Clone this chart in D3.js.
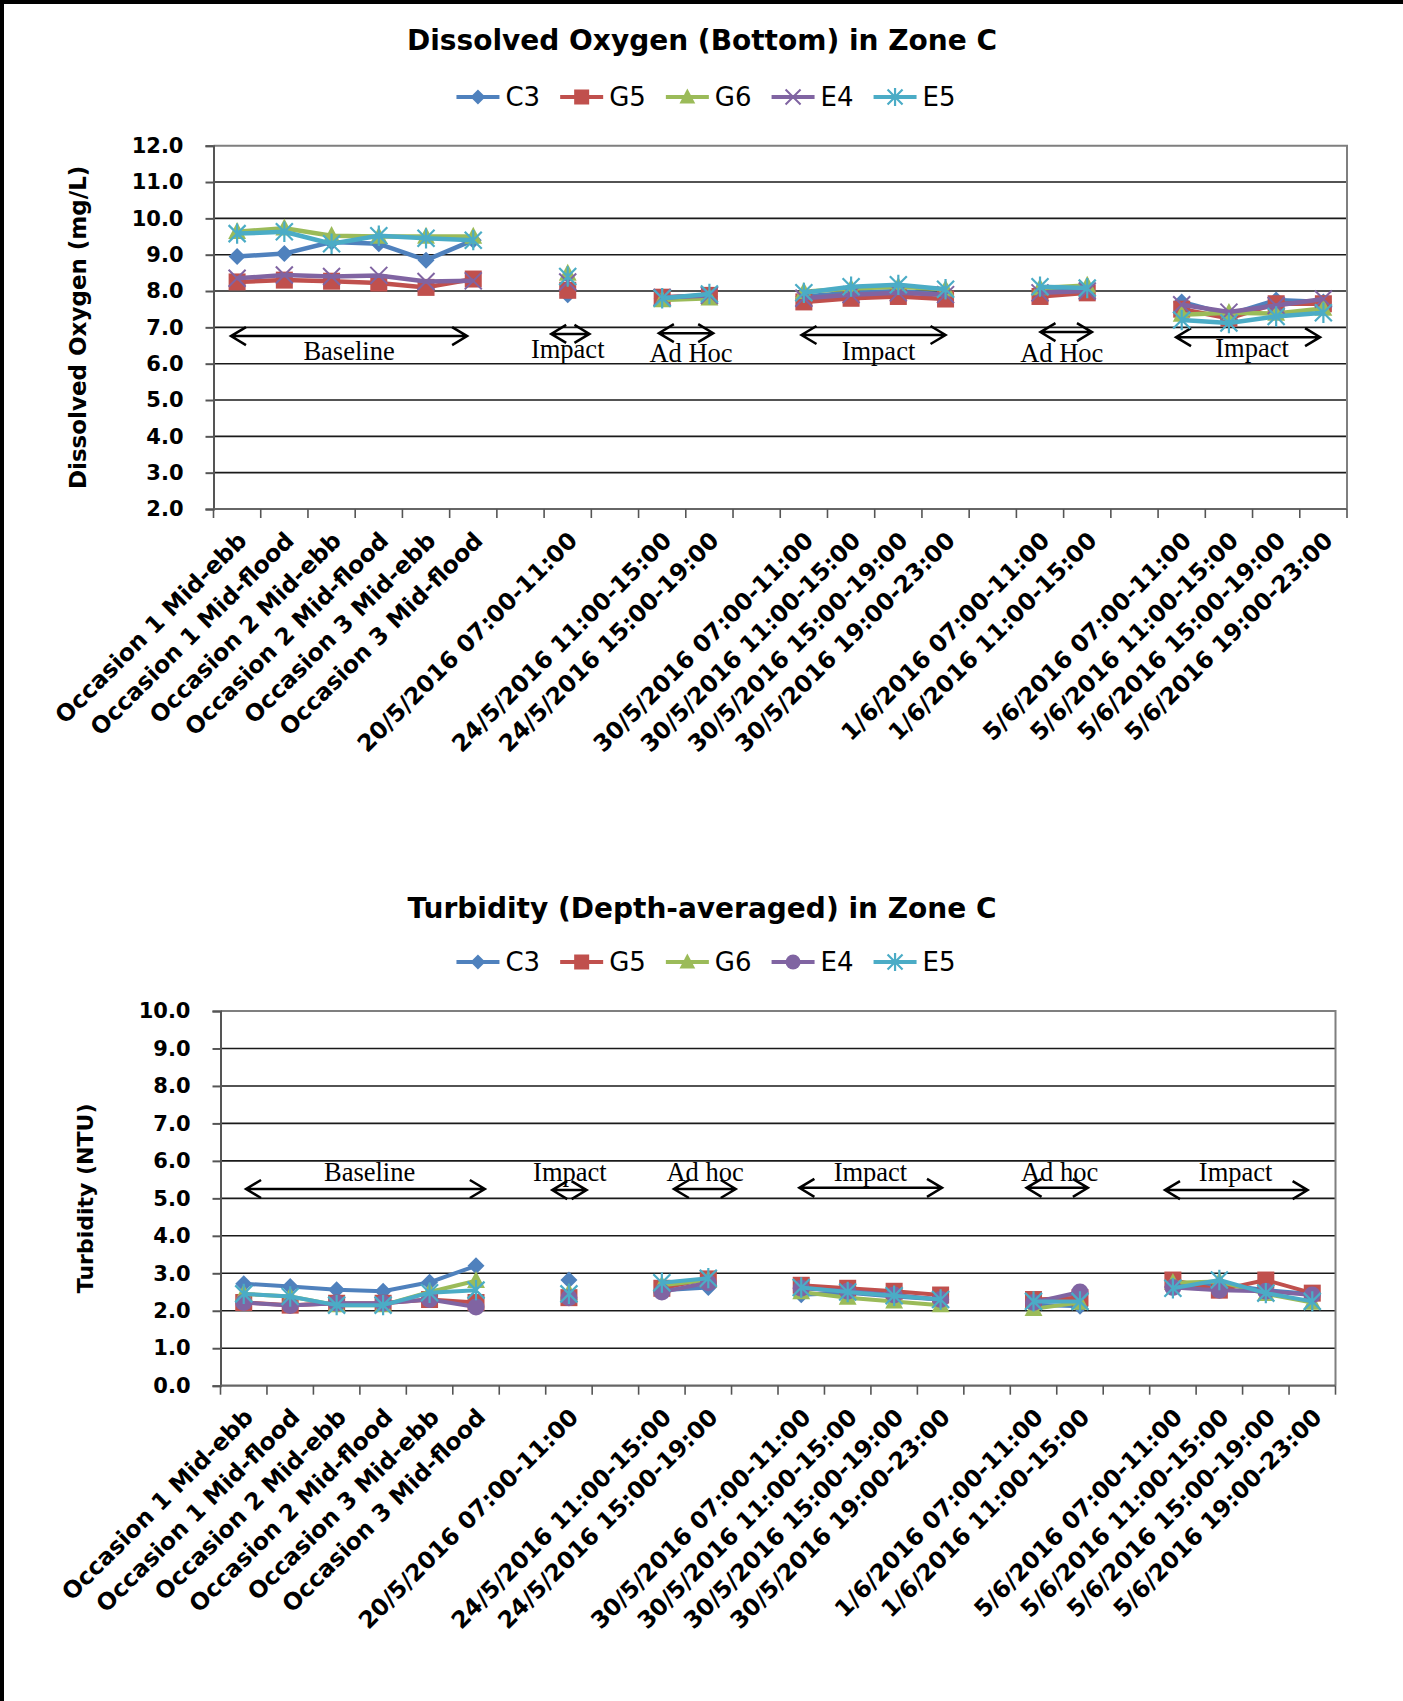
<!DOCTYPE html>
<html>
<head>
<meta charset="utf-8">
<script src="https://cdn.jsdelivr.net/npm/d3@7"></script>
<style>
  html, body { margin: 0; padding: 0; background: #fff; }
  svg { display: block; }
</style>
</head>
<body>
<svg id="page" width="1403" height="1701"></svg>
<script>
// ---- shared categories (blank slots separate the survey groups) ----
const categories = [
  "Occasion 1 Mid-ebb", "Occasion 1 Mid-flood", "Occasion 2 Mid-ebb",
  "Occasion 2 Mid-flood", "Occasion 3 Mid-ebb", "Occasion 3 Mid-flood",
  "", "20/5/2016 07:00-11:00", "",
  "24/5/2016 11:00-15:00", "24/5/2016 15:00-19:00", "",
  "30/5/2016 07:00-11:00", "30/5/2016 11:00-15:00", "30/5/2016 15:00-19:00",
  "30/5/2016 19:00-23:00", "",
  "1/6/2016 07:00-11:00", "1/6/2016 11:00-15:00", "",
  "5/6/2016 07:00-11:00", "5/6/2016 11:00-15:00", "5/6/2016 15:00-19:00",
  "5/6/2016 19:00-23:00"
];
const stations = ["C3", "G5", "G6", "E4", "E5"];
const stationColors = ["#4F81BD", "#C0504D", "#9BBB59", "#8064A2", "#4BACC6"];

// ---- Dissolved oxygen (bottom), mg/L ----
const doC3 = [8.95, 9.03, 9.35, 9.30, 8.85, 9.40, null, 7.90, null, 7.80, 7.85, null, 7.85, 7.95, 8.00, 7.90, null, 8.00, 8.00, null, 7.70, 7.35, 7.75, 7.70];
const doG5 = [8.25, 8.30, 8.27, 8.22, 8.10, 8.33, null, 8.02, null, 7.83, 7.88, null, 7.70, 7.80, 7.85, 7.78, null, 7.85, 7.95, null, 7.50, 7.25, 7.65, 7.65];
const doG6 = [9.63, 9.73, 9.52, 9.50, 9.50, 9.50, null, 8.48, null, 7.75, 7.80, null, 7.98, 8.07, 8.12, 8.05, null, 8.08, 8.15, null, 7.35, 7.40, 7.38, 7.52];
const doE4 = [8.35, 8.44, 8.40, 8.43, 8.26, 8.28, null, 8.25, null, 7.82, 7.88, null, 7.80, 7.90, 7.95, 7.90, null, 7.95, 8.00, null, 7.62, 7.42, 7.60, 7.78];
const doE5 = [9.58, 9.63, 9.30, 9.52, 9.45, 9.40, null, 8.40, null, 7.80, 7.92, null, 7.95, 8.12, 8.17, 8.05, null, 8.12, 8.08, null, 7.20, 7.12, 7.30, 7.40];
const doTicks = [2, 3, 4, 5, 6, 7, 8, 9, 10, 11, 12];

// ---- Turbidity (depth-averaged), NTU ----
const tbC3 = [2.72, 2.65, 2.56, 2.52, 2.76, 3.20, null, 2.82, null, 2.55, 2.62, null, 2.43, 2.48, 2.38, 2.30, null, 2.16, 2.12, null, 2.65, 2.72, 2.55, 2.45];
const tbG5 = [2.22, 2.15, 2.20, 2.20, 2.30, 2.22, null, 2.35, null, 2.60, 2.85, null, 2.68, 2.60, 2.52, 2.42, null, 2.30, 2.35, null, 2.82, 2.55, 2.82, 2.47];
const tbG6 = [2.45, 2.38, 2.15, 2.15, 2.50, 2.80, null, 2.48, null, 2.68, 2.82, null, 2.50, 2.35, 2.25, 2.15, null, 2.05, 2.22, null, 2.75, 2.78, 2.45, 2.22];
const tbE4 = [2.22, 2.14, 2.20, 2.20, 2.30, 2.10, null, 2.35, null, 2.50, 2.75, null, 2.60, 2.52, 2.42, 2.30, null, 2.22, 2.50, null, 2.62, 2.55, 2.52, 2.42];
const tbE5 = [2.45, 2.38, 2.15, 2.15, 2.48, 2.55, null, 2.45, null, 2.75, 2.87, null, 2.62, 2.50, 2.40, 2.30, null, 2.25, 2.25, null, 2.60, 2.82, 2.47, 2.25];
const tbTicks = [0, 1, 2, 3, 4, 5, 6, 7, 8, 9, 10];

// ---- monitoring-phase brackets: span in category units, height in data units ----
const doPhases = [
  { label: "Baseline", from: -0.13, to: 4.87, y: 6.76, tx: 2.37, ty: 6.10 },
  { label: "Impact",   from: 6.65,  to: 7.46, y: 6.82, tx: 7.00, ty: 6.16 },
  { label: "Ad Hoc",   from: 8.93,  to: 10.08, y: 6.84, tx: 9.61, ty: 6.05 },
  { label: "Impact",   from: 11.95, to: 15.00, y: 6.79, tx: 13.58, ty: 6.10 },
  { label: "Ad Hoc",   from: 17.01, to: 18.10, y: 6.87, tx: 17.46, ty: 6.05 },
  { label: "Impact",   from: 19.88, to: 22.93, y: 6.73, tx: 21.49, ty: 6.18 }
];
const tbPhases = [
  { label: "Baseline", from: 0.05,  to: 5.19,  y: 5.25, tx: 2.71,  ty: 5.45 },
  { label: "Impact",   from: 6.64,  to: 7.38,  y: 5.22, tx: 7.02,  ty: 5.45 },
  { label: "Ad hoc",   from: 9.26,  to: 10.59, y: 5.25, tx: 9.93,  ty: 5.45 },
  { label: "Impact",   from: 11.96, to: 15.03, y: 5.28, tx: 13.49, ty: 5.45 },
  { label: "Ad hoc",   from: 16.85, to: 18.17, y: 5.28, tx: 17.56, ty: 5.45 },
  { label: "Impact",   from: 19.83, to: 22.90, y: 5.22, tx: 21.35, ty: 5.45 }
];

const SANS = "'DejaVu Sans', Verdana, sans-serif";
const SERIF = "'Liberation Serif', 'Times New Roman', serif";

const svg = d3.select("#page");
svg.append("rect").attr("width", 1403).attr("height", 1701).attr("fill", "#fff");

// marker painters, drawn centred on (0,0)
function drawMarker(g, kind, color, s) {
  if (kind === "diamond") {
    g.append("path").attr("d", `M0,${-s}L${s},0L0,${s}L${-s},0Z`).attr("fill", color);
  } else if (kind === "square") {
    g.append("rect").attr("x", -s).attr("y", -s).attr("width", 2 * s).attr("height", 2 * s).attr("fill", color);
  } else if (kind === "triangle") {
    g.append("path").attr("d", `M0,${-s * 1.15}L${s * 1.05},${s * 0.85}L${-s * 1.05},${s * 0.85}Z`).attr("fill", color);
  } else if (kind === "circle") {
    g.append("circle").attr("r", s).attr("fill", color);
  } else if (kind === "x") {
    g.append("path").attr("d", `M${-s},${-s}L${s},${s}M${-s},${s}L${s},${-s}`)
      .attr("stroke", color).attr("stroke-width", 2).attr("fill", "none");
  } else if (kind === "star") {
    g.append("path").attr("d", `M${-s},${-s}L${s},${s}M${-s},${s}L${s},${-s}M0,${-s * 1.2}L0,${s * 1.2}`)
      .attr("stroke", color).attr("stroke-width", 2.2).attr("fill", "none");
  }
}

function drawChart(cfg) {
  const { plot, values, markers, ticks, title, yTitle, phases } = cfg;
  const g = svg.append("g");

  const x = d3.scaleBand().domain(d3.range(categories.length)).range([plot.x0, plot.x1]).padding(0);
  const xc = i => x(i) + x.bandwidth() / 2;
  const xf = v => plot.x0 + (v + 0.5) * x.step();            // fractional category position
  const y = d3.scaleLinear().domain([ticks[0], ticks[ticks.length - 1]]).range([plot.y1, plot.y0]);

  // title
  g.append("text").attr("x", 702).attr("y", cfg.titleY).attr("text-anchor", "middle")
    .attr("font-family", SANS).attr("font-weight", "bold").attr("font-size", 28).attr("fill", "#000")
    .text(title);

  // legend, centred
  const lg = g.append("g");
  let cursor = 0;
  stations.forEach((name, k) => {
    const item = lg.append("g").attr("transform", `translate(${cursor},0)`);
    item.append("line").attr("x1", 0).attr("x2", 43).attr("y1", 0).attr("y2", 0)
      .attr("stroke", stationColors[k]).attr("stroke-width", 4);
    drawMarker(item.append("g").attr("transform", "translate(21.5,0)"), markers[k], stationColors[k], 7.5);
    const t = item.append("text").attr("x", 49).attr("y", 9).attr("font-family", SANS)
      .attr("font-size", 26).attr("fill", "#000").text(name);
    cursor += 49 + t.node().getComputedTextLength() + 20;
  });
  const lgWidth = cursor - 20;
  lg.attr("transform", `translate(${706 - lgWidth / 2},${cfg.legendY})`);

  // horizontal gridlines
  g.append("g").selectAll("line").data(ticks.slice(1, -1)).join("line")
    .attr("x1", plot.x0).attr("x2", plot.x1).attr("y1", d => y(d)).attr("y2", d => y(d))
    .attr("stroke", "#1a1a1a").attr("stroke-width", 1.6);

  // plot frame: top and right edges
  g.append("path").attr("d", `M${plot.x0},${plot.y0}H${plot.x1}V${plot.y1}`)
    .attr("fill", "none").attr("stroke", "#7f7f7f").attr("stroke-width", 2);

  // y axis
  const yAxis = g.append("g").attr("transform", `translate(${plot.x0},0)`)
    .call(d3.axisLeft(y).tickValues(ticks).tickSize(8).tickPadding(22).tickFormat(d3.format(".1f")));
  yAxis.select(".domain").attr("stroke", "#555").attr("stroke-width", 2);
  yAxis.selectAll(".tick line").attr("stroke", "#555").attr("stroke-width", 2);
  yAxis.selectAll(".tick text").attr("font-family", SANS).attr("font-weight", "bold")
    .attr("font-size", 21).attr("fill", "#000");

  // x axis: ticks on category boundaries
  g.append("line").attr("x1", plot.x0).attr("x2", plot.x1).attr("y1", plot.y1).attr("y2", plot.y1)
    .attr("stroke", "#666").attr("stroke-width", 2.2);
  const bounds = d3.range(categories.length + 1).map(i => plot.x0 + i * x.step());
  g.append("g").selectAll("line").data(bounds).join("line")
    .attr("x1", d => d).attr("x2", d => d).attr("y1", plot.y1).attr("y2", plot.y1 + 9)
    .attr("stroke", "#555").attr("stroke-width", 1.6);
  g.append("g").selectAll("text").data(categories.map((c, i) => ({ c, i })).filter(d => d.c)).join("text")
    .attr("transform", d => `translate(${xc(d.i) + 11},${plot.y1 + 33}) rotate(-45)`)
    .attr("text-anchor", "end").attr("font-family", SANS).attr("font-weight", "bold")
    .attr("font-size", 23.5).attr("fill", "#000").text(d => d.c);

  // y axis title
  g.append("text").attr("transform", `translate(${plot.x0 - 128},${(plot.y0 + plot.y1) / 2}) rotate(-90)`)
    .attr("text-anchor", "middle").attr("font-family", SANS).attr("font-weight", "bold")
    .attr("font-size", cfg.yTitleSize).attr("fill", "#000").text(yTitle);

  // phase brackets
  const ph = g.append("g");
  phases.forEach(p => {
    const a = xf(p.from), b = xf(p.to), yy = y(p.y);
    ph.append("path")
      .attr("d", `M${a},${yy}H${b}M${a + 15},${yy - 9}L${a},${yy}L${a + 15},${yy + 9}M${b - 15},${yy - 9}L${b},${yy}L${b - 15},${yy + 9}`)
      .attr("fill", "none").attr("stroke", "#000").attr("stroke-width", 2.5);
    ph.append("text").attr("x", xf(p.tx)).attr("y", y(p.ty)).attr("text-anchor", "middle")
      .attr("font-family", SERIF).attr("font-size", 26.5).attr("fill", "#000").text(p.label);
  });

  // series lines and markers (C3 first, E5 on top)
  const line = d3.line().defined(d => d.v !== null).x(d => xc(d.i)).y(d => y(d.v));
  values.forEach((vals, k) => {
    const pts = vals.map((v, i) => ({ v, i }));
    const sg = g.append("g");
    sg.append("path").attr("d", line(pts)).attr("fill", "none")
      .attr("stroke", stationColors[k]).attr("stroke-width", cfg.lineWidth).attr("stroke-linejoin", "round");
    pts.filter(d => d.v !== null).forEach(d => {
      drawMarker(sg.append("g").attr("transform", `translate(${xc(d.i)},${y(d.v)})`), markers[k], stationColors[k], 8.5);
    });
  });
}

// page frame on the left and top edges
svg.append("rect").attr("x", 0).attr("y", 0).attr("width", 1403).attr("height", 4).attr("fill", "#000");
svg.append("rect").attr("x", 0).attr("y", 0).attr("width", 4).attr("height", 1701).attr("fill", "#000");

drawChart({
  plot: { x0: 213.5, x1: 1347, y0: 145.7, y1: 509 },
  values: [doC3, doG5, doG6, doE4, doE5],
  markers: ["diamond", "square", "triangle", "x", "star"],
  ticks: doTicks,
  title: "Dissolved Oxygen (Bottom) in Zone C",
  titleY: 50,
  legendY: 97,
  yTitle: "Dissolved Oxygen (mg/L)",
  yTitleSize: 23,
  lineWidth: 4.5,
  phases: doPhases
});

drawChart({
  plot: { x0: 220.5, x1: 1335.5, y0: 1011, y1: 1385.7 },
  values: [tbC3, tbG5, tbG6, tbE4, tbE5],
  markers: ["diamond", "square", "triangle", "circle", "star"],
  ticks: tbTicks,
  title: "Turbidity (Depth-averaged) in Zone C",
  titleY: 918,
  legendY: 962,
  yTitle: "Turbidity (NTU)",
  yTitleSize: 22,
  lineWidth: 4,
  phases: tbPhases
});
</script>
</body>
</html>
